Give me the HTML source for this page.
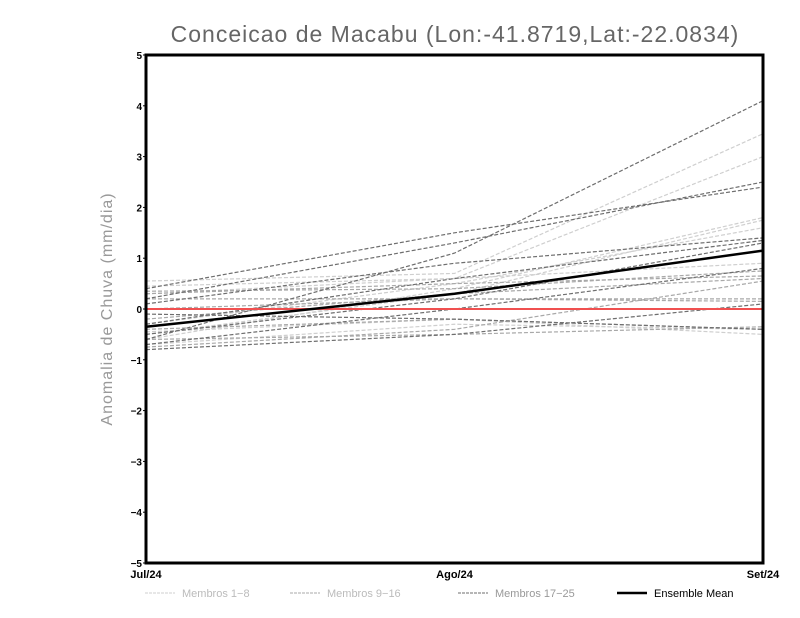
<!DOCTYPE html>
<html><head><meta charset="utf-8"><style>
body{margin:0;background:#fff}
svg{display:block;font-family:"Liberation Sans",sans-serif}
</style></head><body>
<svg id="chart" width="800" height="618" viewBox="0 0 800 618">
<text x="455" y="42" text-anchor="middle" font-size="23" fill="#666" letter-spacing="1">Conceicao de Macabu (Lon:-41.8719,Lat:-22.0834)</text>
<text transform="translate(112,309) rotate(-90)" text-anchor="middle" font-size="16" fill="#999" letter-spacing="1">Anomalia de Chuva (mm/dia)</text>
<g id="lines"></g>
<g id="axes"></g>
<g id="legend"></g>
</svg>
<script>
const categories=["Jul/24","Ago/24","Set/24"];
const yTicks=[-5,-4,-3,-2,-1,0,1,2,3,4,5];
const members1to8=[[0.55,0.7,3.45],[0.45,0.6,3.0],[-0.6,0.4,1.8],[-0.5,0.3,1.75],[-0.3,0.5,1.6],[0.3,0.6,0.9],[-0.7,-0.3,-0.4],[-0.45,-0.2,-0.5]];
const members9to16=[[0.35,0.4,0.75],[-0.2,0.3,0.6],[-0.75,-0.4,0.55],[0.2,0.2,0.2],[-0.4,-0.2,-0.4],[-0.6,-0.5,-0.35],[0.0,0.2,0.15],[0.3,0.5,0.65]];
const members17to25=[[-0.6,1.1,4.1],[0.2,1.3,2.5],[0.4,1.5,2.4],[0.1,0.9,1.4],[-0.3,0.6,1.35],[-0.5,0.2,1.3],[-0.7,0.0,0.8],[-0.8,-0.5,0.1],[-0.1,-0.2,-0.4]];
const ensembleMean=[-0.35,0.3,1.15];
const zeroLine=[0,0,0];
const L=146,R=763,T=55,B=563;
const xS=i=>L+i*(R-L)/(categories.length-1);
const yS=v=>B-(v+5)*(B-T)/10;
const NS="http://www.w3.org/2000/svg";
function mk(tag,attrs,parent){const e=document.createElementNS(NS,tag);for(const k in attrs)e.setAttribute(k,attrs[k]);parent.appendChild(e);return e;}
const lg=document.getElementById('lines');
function drawLine(vals,color,w,dash,name){
 const p=mk('polyline',{points:vals.map((v,i)=>xS(i)+','+yS(v)).join(' '),fill:'none',stroke:color,'stroke-width':w},lg);
 if(dash)p.setAttribute('stroke-dasharray',dash);
 
 
}
members1to8.forEach((s,i)=>drawLine(s,'#cfcfcf',1.2,'4,2','member-'+(i+1)));
members9to16.forEach((s,i)=>drawLine(s,'#a8a8a8',1.2,'4,2','member-'+(i+9)));
members17to25.forEach((s,i)=>drawLine(s,'#6e6e6e',1.2,'4,2','member-'+(i+17)));
drawLine(zeroLine,'#f05050',2,null,'zero-line');
drawLine(ensembleMean,'#000',2.5,null,'ensemble-mean-line');
const ax=document.getElementById('axes');
const fr=mk('rect',{x:L,y:T,width:R-L,height:B-T,fill:'none',stroke:'#000','stroke-width':3},ax);

yTicks.forEach(v=>{
 const t=mk('text',{x:L-4,y:yS(v)+4,'text-anchor':'end','font-size':10,'font-weight':'bold',fill:'#000'},ax);
 t.textContent=v<0?'\u2212'+(-v):String(v);
 
 mk('line',{x1:L-3,x2:L,y1:yS(v),y2:yS(v),stroke:'#000'},ax);
});
categories.forEach((c,i)=>{
 const t=mk('text',{x:xS(i),y:B+15,'text-anchor':'middle','font-size':11,'font-weight':'bold',fill:'#000'},ax);
 t.textContent=c;
 
});
const lgd=document.getElementById('legend');
const items=[["Membros 1-8","#cfcfcf",1,'3,1',145],["Membros 9-16","#a8a8a8",1,'3,1',290],["Membros 17-25","#6e6e6e",1,'3,1',458],["Ensemble Mean","#000",2.5,null,617]];
items.forEach(it=>{
 const g=mk('g',{},lgd);
 
 const l=mk('line',{x1:it[4],x2:it[4]+30,y1:593,y2:593,stroke:it[1],'stroke-width':it[2]},g);
 if(it[3])l.setAttribute('stroke-dasharray',it[3]);
 const t=mk('text',{x:it[4]+37,y:597,'font-size':11,fill:it[1]==='#000'?'#000':(it[1]==='#6e6e6e'?'#999':'#bbb')},g);
 t.textContent=it[0].replace('-','\u2212');
});
</script>
</body></html>
